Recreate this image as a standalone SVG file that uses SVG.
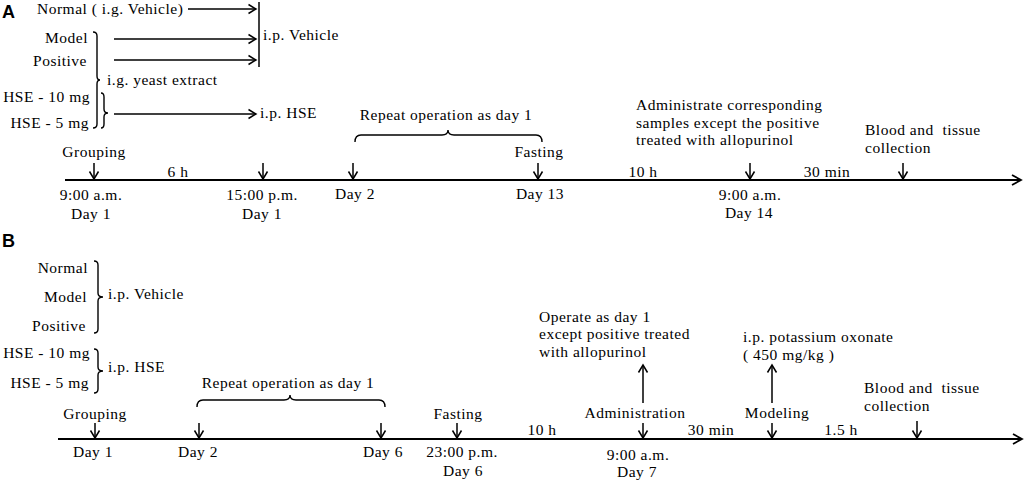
<svg xmlns="http://www.w3.org/2000/svg" width="1024" height="483" viewBox="0 0 1024 483">
<style>
text{font-family:"Liberation Serif","Times New Roman",serif;font-size:15.5px;letter-spacing:0.5px;fill:#000}
.c{text-anchor:middle}
.e{text-anchor:end}
.lab{font-family:"Liberation Sans",Arial,sans-serif;font-weight:bold;font-size:18px;letter-spacing:0}
.ln{stroke:#000;stroke-width:1.5;fill:none}
.tl{stroke:#000;stroke-width:2;fill:none}
.br{stroke:#000;stroke-width:1.4;fill:none}
</style>
<defs>
<marker id="ah" markerWidth="12" markerHeight="12" refX="9" refY="6" orient="auto" markerUnits="userSpaceOnUse">
<path d="M1.5,1.5 L9,6 L1.5,10.5" fill="none" stroke="#000" stroke-width="1.5"/>
</marker>
<marker id="ahb" markerWidth="14" markerHeight="14" refX="11" refY="7" orient="auto" markerUnits="userSpaceOnUse">
<path d="M2,2 L11,7 L2,12" fill="none" stroke="#000" stroke-width="1.8"/>
</marker>
</defs>
<rect width="1024" height="483" fill="#fff"/>

<g id="panelA-label"><text class="lab" x="2" y="18">A</text></g>

<g id="A-groups">
<text x="37" y="14">Normal ( i.g. Vehicle)</text>
<text class="e" x="88" y="43">Model</text>
<text class="e" x="87" y="66">Positive</text>
<text x="107" y="85">i.g. yeast extract</text>
<text class="e" x="90" y="102">HSE - 10 mg</text>
<text class="e" x="89" y="128">HSE - 5 mg</text>
<path class="br" d="M93,32 Q97,32 97,36 L97,76 Q97,80 100,80 Q97,80 97,84 L97,124 Q97,128 93,128"/>
<path class="br" d="M101,93 Q104,93 104,97 L104,109 Q104,113 108,113 Q104,113 104,117 L104,124 Q104,128 101,128"/>
</g>
<g id="A-treatments">
<line class="ln" x1="259" y1="2" x2="259" y2="67"/>
<text x="263" y="40">i.p. Vehicle</text>
<text x="260" y="118">i.p. HSE</text>
</g>

<g id="A-connectors">
<line class="ln" x1="188" y1="9" x2="256" y2="9" marker-end="url(#ah)"/>
<line class="ln" x1="114" y1="39" x2="256" y2="39" marker-end="url(#ah)"/>
<line class="ln" x1="114" y1="60" x2="256" y2="60" marker-end="url(#ah)"/>
<line class="ln" x1="114" y1="114" x2="256" y2="114" marker-end="url(#ah)"/>
<line class="tl" x1="65" y1="180" x2="1021" y2="180" marker-end="url(#ahb)"/>
<line class="ln" x1="94" y1="163" x2="94" y2="179" marker-end="url(#ah)"/>
<line class="ln" x1="263" y1="163" x2="263" y2="179" marker-end="url(#ah)"/>
<line class="ln" x1="353" y1="163" x2="353" y2="179" marker-end="url(#ah)"/>
<line class="ln" x1="538" y1="163" x2="538" y2="179" marker-end="url(#ah)"/>
<line class="ln" x1="750" y1="163" x2="750" y2="179" marker-end="url(#ah)"/>
<line class="ln" x1="903" y1="163" x2="903" y2="179" marker-end="url(#ah)"/>
</g>

<g id="A-grouping"><text class="c" x="94" y="157">Grouping</text><text class="c" x="91" y="200">9:00 a.m.</text><text class="c" x="91" y="219">Day 1</text></g>
<g id="A-6h"><text class="c" x="178" y="177">6 h</text></g>
<g id="A-1500"><text class="c" x="262" y="200">15:00 p.m.</text><text class="c" x="262" y="219">Day 1</text></g>
<g id="A-repeat">
<text class="c" x="446" y="120">Repeat operation as day 1</text>
<path class="br" d="M355,142 Q355,135 361,135 L442,135 Q448,135 448,130 Q448,135 454,135 L536,135 Q542,135 542,142"/>
<text class="c" x="355" y="199">Day 2</text>
</g>
<g id="A-fasting"><text class="c" x="539" y="157">Fasting</text><text class="c" x="540" y="199">Day 13</text></g>
<g id="A-10h"><text class="c" x="643" y="177">10 h</text></g>
<g id="A-admin">
<text x="636" y="110">Administrate corresponding</text>
<text x="636" y="128">samples except the positive</text>
<text x="636" y="145">treated with allopurinol</text>
<text class="c" x="750" y="200">9:00 a.m.</text>
<text class="c" x="749" y="218">Day 14</text>
</g>
<g id="A-30min"><text class="c" x="827" y="177">30 min</text></g>
<g id="A-collection"><text x="865" y="135" xml:space="preserve">Blood and  tissue</text><text x="865" y="153">collection</text></g>

<g id="panelB-label"><text class="lab" x="2" y="247">B</text></g>

<g id="B-groups">
<text class="e" x="88" y="273">Normal</text>
<text class="e" x="87" y="302">Model</text>
<text class="e" x="86" y="331">Positive</text>
<path class="br" d="M94,261 Q98,261 98,265 L98,293 Q98,297 103,297 Q98,297 98,301 L98,329 Q98,333 94,333"/>
<text x="108" y="299">i.p. Vehicle</text>
<text class="e" x="90" y="358">HSE - 10 mg</text>
<text class="e" x="89" y="388">HSE - 5 mg</text>
<path class="br" d="M94,349 Q98,349 98,353 L98,367 Q98,371 103,371 Q98,371 98,375 L98,389 Q98,393 94,393"/>
<text x="108" y="372">i.p. HSE</text>
</g>

<g id="B-connectors">
<line class="tl" x1="58" y1="439" x2="1022" y2="439" marker-end="url(#ahb)"/>
<line class="ln" x1="95" y1="423" x2="95" y2="438" marker-end="url(#ah)"/>
<line class="ln" x1="199" y1="423" x2="199" y2="438" marker-end="url(#ah)"/>
<line class="ln" x1="381" y1="423" x2="381" y2="438" marker-end="url(#ah)"/>
<line class="ln" x1="457" y1="423" x2="457" y2="438" marker-end="url(#ah)"/>
<line class="ln" x1="643" y1="423" x2="643" y2="438" marker-end="url(#ah)"/>
<line class="ln" x1="772" y1="423" x2="772" y2="438" marker-end="url(#ah)"/>
<line class="ln" x1="917" y1="421" x2="917" y2="438" marker-end="url(#ah)"/>
<line class="ln" x1="643" y1="403" x2="643" y2="365" marker-end="url(#ah)"/>
<line class="ln" x1="772" y1="403" x2="772" y2="365" marker-end="url(#ah)"/>
</g>

<g id="B-grouping"><text class="c" x="95" y="419">Grouping</text><text class="c" x="93" y="457">Day 1</text></g>
<g id="B-repeat">
<text class="c" x="288" y="388">Repeat operation as day 1</text>
<path class="br" d="M197,407 Q197,400 203,400 L284,400 Q290,400 290,395 Q290,400 296,400 L379,400 Q385,400 385,407"/>
<text class="c" x="198" y="457">Day 2</text>
<text class="c" x="383" y="457">Day 6</text>
</g>
<g id="B-fasting"><text class="c" x="458" y="419">Fasting</text><text class="c" x="462" y="457">23:00 p.m.</text><text class="c" x="463" y="476">Day 6</text></g>
<g id="B-10h"><text class="c" x="542" y="435">10 h</text></g>
<g id="B-admin">
<text x="539" y="322">Operate as day 1</text>
<text x="539" y="339">except positive treated</text>
<text x="539" y="357">with allopurinol</text>
<text class="c" x="635" y="418">Administration</text>
<text class="c" x="638" y="460">9:00 a.m.</text>
<text class="c" x="637" y="477">Day 7</text>
</g>
<g id="B-30min"><text class="c" x="711" y="435">30 min</text></g>
<g id="B-modeling">
<text x="743" y="342">i.p. potassium oxonate</text>
<text x="743" y="360">( 450 mg/kg )</text>
<text class="c" x="777" y="418">Modeling</text>
</g>
<g id="B-15h"><text class="c" x="841" y="435">1.5 h</text></g>
<g id="B-collection"><text x="864" y="393" xml:space="preserve">Blood and  tissue</text><text x="864" y="411">collection</text></g>
</svg>
